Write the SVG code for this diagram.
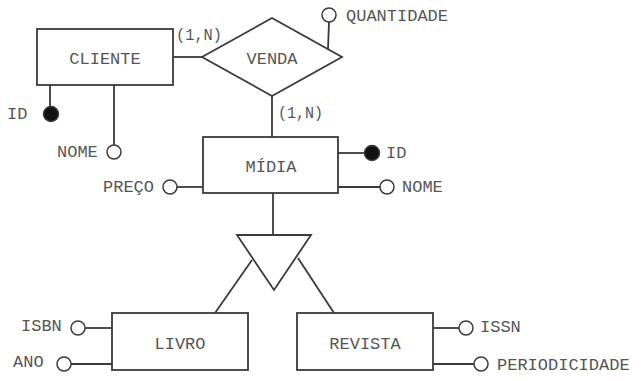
<svg xmlns="http://www.w3.org/2000/svg" width="641" height="381" viewBox="0 0 641 381">
<style>
.s{fill:none;stroke:#3a3a3a;stroke-width:1.8}
.b{fill:#fff;stroke:#3a3a3a;stroke-width:1.8}
.k{fill:#111;stroke:#3a3a3a;stroke-width:1.5}
.o{fill:#fff;stroke:#3a3a3a;stroke-width:1.5}
text{font-family:"Liberation Mono","Courier New",monospace;font-size:17px;fill:#555;dominant-baseline:central}
.m{text-anchor:middle}
</style>
<rect width="641" height="381" fill="#fff"/>
<g id="connectors">
<line class="s" x1="173" y1="57" x2="202" y2="57"/>
<line class="s" x1="272" y1="96" x2="272" y2="137"/>
<line class="s" x1="329" y1="22" x2="328" y2="49"/>
<line class="s" x1="50" y1="85" x2="50" y2="107"/>
<line class="s" x1="114" y1="85" x2="114" y2="145"/>
<line class="s" x1="338" y1="153" x2="365" y2="153"/>
<line class="s" x1="177" y1="187" x2="203" y2="187"/>
<line class="s" x1="338" y1="187" x2="380" y2="187"/>
<line class="s" x1="273" y1="193" x2="273" y2="235"/>
<line class="s" x1="252" y1="260" x2="215" y2="313"/>
<line class="s" x1="298" y1="258" x2="334" y2="313"/>
<line class="s" x1="85" y1="328" x2="112" y2="328"/>
<line class="s" x1="71" y1="364" x2="112" y2="364"/>
<line class="s" x1="433" y1="328" x2="459" y2="328"/>
<line class="s" x1="433" y1="364" x2="474" y2="364"/>
<text x="176" y="35" textLength="46" lengthAdjust="spacingAndGlyphs">(1,N)</text>
<text x="278" y="113" textLength="45" lengthAdjust="spacingAndGlyphs">(1,N)</text>
</g>
<g id="cliente">
<rect class="b" x="37" y="29" width="136" height="56"/>
<text class="m" x="105" y="59">CLIENTE</text>
</g>
<g id="venda">
<polygon class="b" points="202,57 272,18 342,57 272,96"/>
<text class="m" x="272" y="59">VENDA</text>
</g>
<g id="quantidade">
<circle class="o" cx="329" cy="15" r="7"/>
<text x="346" y="16">QUANTIDADE</text>
</g>
<g id="cliente-id">
<circle class="k" cx="51" cy="114" r="7.5"/>
<text x="7" y="114">ID</text>
</g>
<g id="cliente-nome">
<circle class="o" cx="114" cy="152" r="7"/>
<text x="57" y="152">NOME</text>
</g>
<g id="midia">
<rect class="b" x="203" y="137" width="135" height="56"/>
<text class="m" x="271" y="167">MÍDIA</text>
</g>
<g id="midia-id">
<circle class="k" cx="372" cy="153" r="7.5"/>
<text x="386" y="153">ID</text>
</g>
<g id="midia-preco">
<circle class="o" cx="170" cy="187" r="7"/>
<text x="103" y="187">PREÇO</text>
</g>
<g id="midia-nome">
<circle class="o" cx="387" cy="187" r="7"/>
<text x="402" y="187">NOME</text>
</g>
<g id="especializacao">
<polygon class="b" points="237,235 311,235 274,290"/>
</g>
<g id="livro">
<rect class="b" x="112" y="313" width="136" height="57"/>
<text class="m" x="180" y="344">LIVRO</text>
</g>
<g id="livro-isbn">
<circle class="o" cx="78" cy="328" r="7"/>
<text x="21" y="326">ISBN</text>
</g>
<g id="livro-ano">
<circle class="o" cx="64" cy="364" r="7"/>
<text x="13" y="362">ANO</text>
</g>
<g id="revista">
<rect class="b" x="297" y="313" width="136" height="57"/>
<text class="m" x="365" y="344">REVISTA</text>
</g>
<g id="revista-issn">
<circle class="o" cx="466" cy="328" r="7"/>
<text x="480" y="327">ISSN</text>
</g>
<g id="revista-periodicidade">
<circle class="o" cx="481" cy="364" r="7"/>
<text x="497" y="365">PERIODICIDADE</text>
</g>
</svg>
